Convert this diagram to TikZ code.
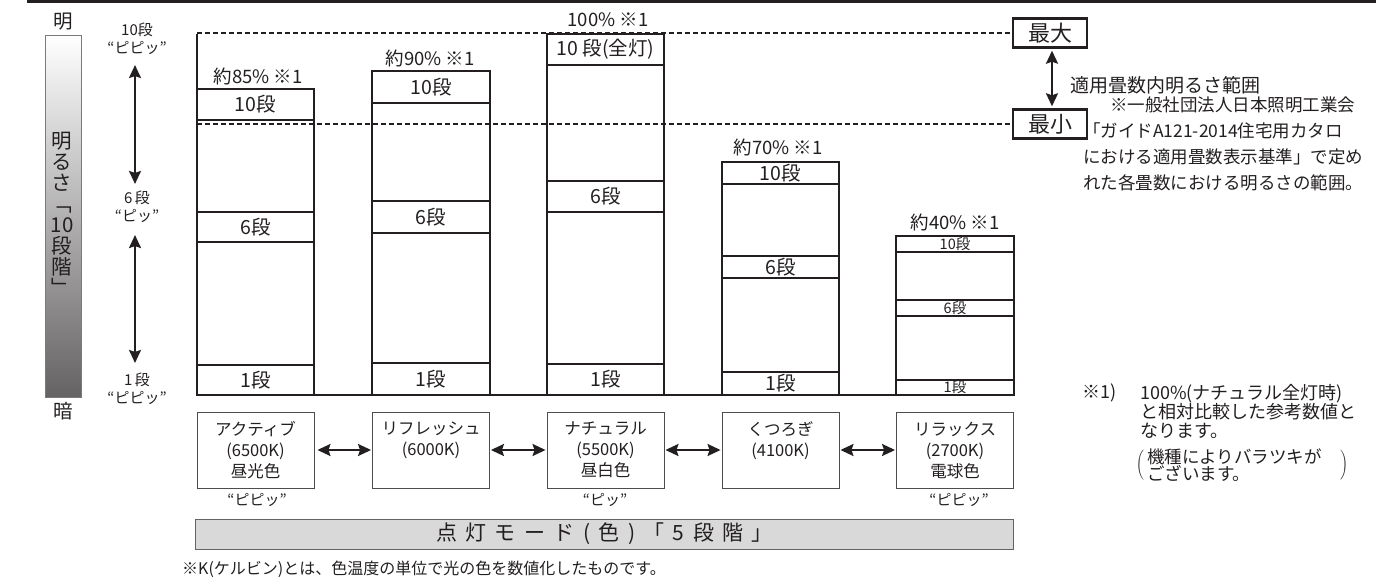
\documentclass[tikz,border=0pt]{standalone}
\usepackage{fontspec}
\setmainfont{Noto Sans CJK JP}
\newfontfamily\spacedfont{Noto Sans CJK JP}[LetterSpace=40]
\usetikzlibrary{arrows.meta}
\definecolor{ink}{HTML}{231F20}
\definecolor{modegray}{HTML}{D9D9D9}
\newcommand{\jsize}[2]{\fontsize{#1}{#2}\selectfont}

\begin{document}
\begin{tikzpicture}[
x=1pt, y=-1pt,
every node/.style={inner sep=0pt, text=ink},
seg/.style={draw=ink, line width=1.6pt, minimum width=117pt, font=\jsize{19.5}{19.5}},
thinseg/.style={seg, font=\jsize{14.5}{14.5}},
pct/.style={font=\jsize{18.5}{18.5}},
mode/.style={draw=ink!80, line width=0.9pt, minimum width=117pt, minimum height=76pt, align=center, font=\jsize{16.5}{21}},
beep/.style={align=center, font=\jsize{15}{18}},
level/.style={draw=ink, line width=2.4pt, minimum width=74pt, minimum height=29pt, font=\jsize{22}{22}},
twoway/.style={{Stealth[length=13pt,width=12pt,inset=2pt]}-{Stealth[length=13pt,width=12pt,inset=2pt]}, line width=2.1pt, draw=ink},
guide/.style={draw=ink, line width=1.4pt, dash pattern=on 5pt off 3pt},
barframe/.style={draw=ink, line width=1.6pt}]

\useasboundingbox (0,0) rectangle (1376,578);
\fill[ink] (27,0) rectangle (1376,3.5);

% brightness scale
\node[draw=ink!60, line width=0.8pt, top color=white, bottom color=ink!70, minimum width=36pt, minimum height=362pt] (scale) at (63,216) {};
\node[font=\jsize{20.5}{21}, align=center] (scaletext) at (62,214) {明\\る\\さ\\﹁\\10\\段\\階\\﹂};
\node[font=\jsize{19.5}{19.5}] (bright) at (63,22) {明};
\node[font=\jsize{19.5}{19.5}] (dark) at (63,411) {暗};

% beep steps
\node[beep] (lv10) at (137,39) {10段\\“ピピッ”};
\node[beep] (lv6) at (137,207) {6\,段\\“ピッ”};
\node[beep] (lv1) at (137,389) {1\,段\\“ピピッ”};
\draw[twoway, shorten <=10pt, shorten >=7pt] ([xshift=-2pt]lv10.south) -- ([xshift=-2pt]lv6.north);
\draw[twoway, shorten <=12pt, shorten >=10pt] ([xshift=-2pt]lv6.south) -- ([xshift=-2pt]lv1.north);

% max / min
\node[level] (maxbox) at (1050,33) {最大};
\node[level] (minbox) at (1050,124) {最小};
\draw[twoway, shorten <=2pt, shorten >=2pt] ([xshift=2pt]maxbox.south) -- ([xshift=2pt]minbox.north);
\draw[guide] (197,33) -- (maxbox.west);
\draw[guide] (197,124) -- (minbox.west);

% axis
\draw[barframe] (197,34) -- (197,395) -- (1014,395);

% active
\draw[barframe] (197,89) rectangle (314,395);
\node[seg, minimum height=31pt] (act10) at (255.5,104.5) {10段};
\node[seg, minimum height=30pt] (act6) at (255.5,227) {6段};
\node[seg, minimum height=30pt] (act1) at (255.5,380) {1段};
\node[pct] (actpct) at (258,76) {約85\% ※1};

% refresh
\draw[barframe] (372,71) rectangle (490,395);
\node[seg, minimum height=32pt] (ref10) at (431,87) {10段};
\node[seg, minimum height=32pt] (ref6) at (431,217) {6段};
\node[seg, minimum height=32pt] (ref1) at (431,379) {1段};
\node[pct] (refpct) at (430,58) {約90\% ※1};

% natural
\draw[barframe] (547,34) rectangle (664,395);
\node[seg, minimum height=31pt] (nat10) at (605.5,49.5) {10 段(全灯)};
\node[seg, minimum height=31pt] (nat6) at (605.5,196.5) {6段};
\node[seg, minimum height=31pt] (nat1) at (605.5,379.5) {1段};
\node[pct] (natpct) at (608,20) {100\% ※1};

% kutsurogi
\draw[barframe] (722,162) rectangle (839,395);
\node[seg, minimum height=22pt] (kut10) at (780.5,173) {10段};
\node[seg, minimum height=22pt] (kut6) at (780.5,267) {6段};
\node[seg, minimum height=23pt] (kut1) at (780.5,383.5) {1段};
\node[pct] (kutpct) at (778,147) {約70\% ※1};

% relax
\draw[barframe] (896,236) rectangle (1014,395);
\node[thinseg, minimum height=16pt] (rel10) at (955,244) {10段};
\node[thinseg, minimum height=16pt] (rel6) at (955,308) {6段};
\node[thinseg, minimum height=15pt] (rel1) at (955,387.5) {1段};
\node[pct] (relpct) at (955,222) {約40\% ※1};

% notes right
\node[anchor=west, font=\jsize{19}{19}] (rangetitle) at (1070,85) {適用畳数内明るさ範囲};
\node[anchor=north west, align=left, font=\jsize{17.5}{26}] (jlmanote) at (1083,97) {\hspace{27pt}※一般社団法人日本照明工業会\\「ガイドA121-2014住宅用カタロ\\における適用畳数表示基準」で定め\\れた各畳数における明るさの範囲。};

\node[anchor=west, font=\jsize{18}{19}] (fnmark) at (1082,393) {※1)};
\node[anchor=north west, align=left, font=\jsize{18}{19}] (fntext) at (1140,384) {100\%(ナチュラル全灯時)\\と相対比較した参考数値と\\なります。};
\node[anchor=west, font=\jsize{18}{18}] (fnparen) at (1136,465) {$\left(\parbox{196pt}{\jsize{17.5}{17}\hspace*{3pt}機種によりバラツキが\\\hspace*{3pt}ございます。}\right)$};

% lighting modes
\node[mode] (active) at (255.5,450) {アクティブ\\(6500K)\\昼光色};
\node[mode] (refresh) at (431,450) {リフレッシュ\\(6000K)\\\phantom{色}};
\node[mode] (natural) at (605.5,450) {ナチュラル\\(5500K)\\昼白色};
\node[mode] (kutsurogi) at (780.5,450) {くつろぎ\\(4100K)\\\phantom{色}};
\node[mode] (relax) at (955,450) {リラックス\\(2700K)\\電球色};

\draw[twoway, shorten <=3pt, shorten >=1pt] (active) -- (refresh);
\draw[twoway, shorten <=1pt, shorten >=1pt] (refresh) -- (natural);
\draw[twoway, shorten <=1pt, shorten >=1pt] (natural) -- (kutsurogi);
\draw[twoway, shorten <=1pt, shorten >=1pt] (kutsurogi) -- (relax);

\node[beep] (activebeep) at (257,500) {“ピピッ”};
\node[beep] (naturalbeep) at (605,500) {“ピッ”};
\node[beep] (relaxbeep) at (959,500) {“ピピッ”};

\node[draw=ink!70, line width=1pt, fill=modegray, minimum width=818pt, minimum height=30pt, font=\spacedfont\jsize{21}{21}] (modebar) at (604.5,534) {点灯モード(色)「5段階」};
\node[anchor=west, font=\jsize{16}{16}] (kelvinnote) at (182,569) {※K(ケルビン)とは、色温度の単位で光の色を数値化したものです。};
\end{tikzpicture}
\end{document}
